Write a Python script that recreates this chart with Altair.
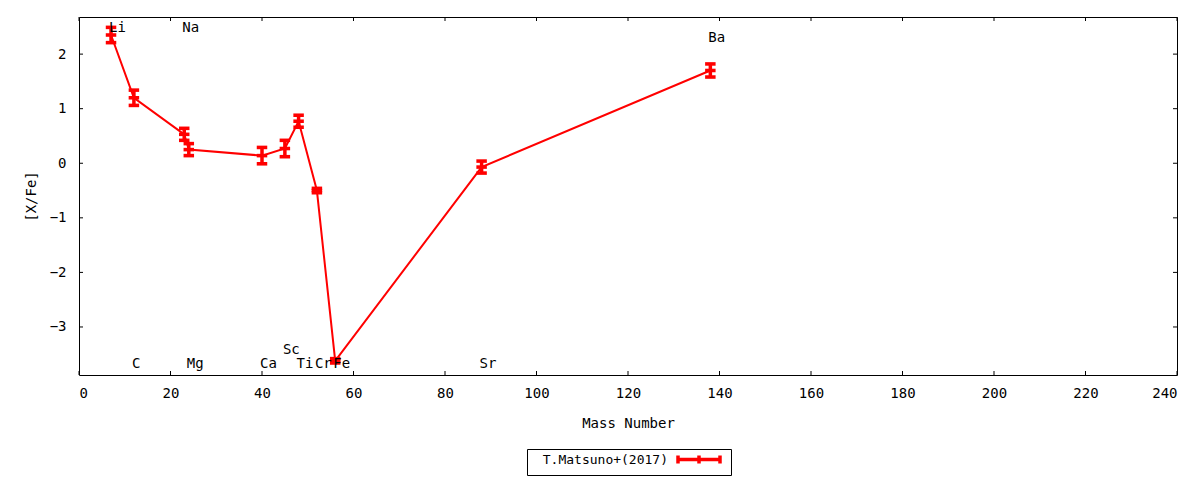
import altair as alt
import pandas as pd

# ---- data ----
elements = ["Li", "C", "Na", "Mg", "Ca", "Sc", "Ti", "Cr", "Fe", "Sr", "Ba"]
mass = [7, 12, 23, 24, 40, 45, 48, 52, 56, 88, 138]
xfe = [2.35, 1.20, 0.53, 0.25, 0.14, 0.27, 0.77, -0.50, -3.62, -0.07, 1.70]
err = [0.14, 0.14, 0.11, 0.11, 0.15, 0.15, 0.11, 0.04, 0.04, 0.11, 0.12]
label_y = [2.48, -3.68, 2.48, -3.68, -3.68, -3.42, -3.68, -3.68, -3.68, -3.68, 2.30]
series_name = "T.Matsuno+(2017)"

x_ticks = [0, 20, 40, 60, 80, 100, 120, 140, 160, 180, 200, 220, 240]
y_ticks = [-3, -2, -1, 0, 1, 2]
x_domain = [0, 240]
y_domain = [-3.88, 2.68]

W, H = 1098, 358
FONT = "DejaVu Sans Mono"
FS = 14
RED = "#ff0000"

df = pd.DataFrame({
    "elem": elements,
    "mass": mass,
    "val": xfe,
    "lo": [v - e for v, e in zip(xfe, err)],
    "hi": [v + e for v, e in zip(xfe, err)],
    "ly": label_y,
    "series": [series_name] * len(elements),
})
xt = pd.DataFrame({"t": x_ticks})
yt = pd.DataFrame({"t": y_ticks})

xs = alt.Scale(domain=x_domain, nice=False, zero=False)
ys = alt.Scale(domain=y_domain, nice=False, zero=False)

xaxis = alt.Axis(values=x_ticks, title="Mass Number", labelPadding=11,
                 titlePadding=16, format="d")
yaxis = alt.Axis(values=y_ticks, title="[X/Fe]", labelPadding=13,
                 titlePadding=11, format="d")

cap_shape = "M-1,-0.34H1V0.34H-1Z"
# legend glyph: line with error-bar ends and centre (scaled by sqrt(size)/2 = 2)
legend_symbol = "M-10.5,0H10.5M-10.5,-2V2M0,-2V2M10.5,-2V2"

base = alt.Chart(df)

line = base.mark_line(strokeWidth=2, clip=True).encode(
    x=alt.X("mass:Q", scale=xs, axis=xaxis),
    y=alt.Y("val:Q", scale=ys, axis=yaxis),
    color=alt.Color(
        "series:N",
        scale=alt.Scale(domain=[series_name], range=[RED]),
        legend=alt.Legend(
            title=None, orient="none", legendX=448, legendY=432,
            direction="vertical",
            symbolType=legend_symbol, symbolSize=16,
            symbolStrokeWidth=3.5, symbolStrokeColor=RED,
            symbolFillColor="transparent",
            labelAlign="right", labelOffset={"expr": "-37.5"},
            symbolOffset=161.5,
            labelFont=FONT, labelFontSize=13, labelColor="black",
            padding=4, strokeColor="black", fillColor="white",
            labelLimit=300,
        ),
    ),
)

bars = base.mark_rule(color=RED, strokeWidth=3.5).encode(
    x="mass:Q", y="lo:Q", y2="hi:Q")
cap_lo = base.mark_point(shape=cap_shape, filled=True, color=RED, opacity=1,
                         size=110).encode(x="mass:Q", y="lo:Q")
cap_hi = base.mark_point(shape=cap_shape, filled=True, color=RED, opacity=1,
                         size=110).encode(x="mass:Q", y="hi:Q")
center = base.mark_point(shape=cap_shape, filled=True, color=RED, opacity=1,
                         size=110).encode(x="mass:Q", y="val:Q")

labels = base.mark_text(align="left", baseline="middle", font=FONT,
                        fontSize=FS, color="black", dx=-2).encode(
    x="mass:Q", y="ly:Q", text="elem:N")

# inward tick marks on all four sides (gnuplot style)
tick_b = alt.Chart(xt).mark_rule(color="black", strokeWidth=1).encode(
    x=alt.X("t:Q", scale=xs), y=alt.value(H), y2=alt.value(H - 4))
tick_t = alt.Chart(xt).mark_rule(color="black", strokeWidth=1).encode(
    x=alt.X("t:Q", scale=xs), y=alt.value(0), y2=alt.value(4))
tick_l = alt.Chart(yt).mark_rule(color="black", strokeWidth=1).encode(
    y=alt.Y("t:Q", scale=ys), x=alt.value(0), x2=alt.value(4))
tick_r = alt.Chart(yt).mark_rule(color="black", strokeWidth=1).encode(
    y=alt.Y("t:Q", scale=ys), x=alt.value(W), x2=alt.value(W - 4))

chart = alt.layer(
    tick_b, tick_t, tick_l, tick_r, line, bars, cap_lo, cap_hi, center, labels
).properties(
    width=W, height=H,
    autosize=alt.AutoSizeParams(type="none"),
    padding={"left": 71, "top": 9, "right": 12, "bottom": 101},
    background="white",
).configure_view(
    stroke="black", strokeWidth=1
).configure_axis(
    grid=False, ticks=False, domain=False,
    labelFont=FONT, labelFontSize=FS, labelColor="black",
    titleFont=FONT, titleFontSize=FS, titleFontWeight="normal",
    titleColor="black",
)

chart.save("out.html", embed_options={"renderer": "svg", "actions": False})
